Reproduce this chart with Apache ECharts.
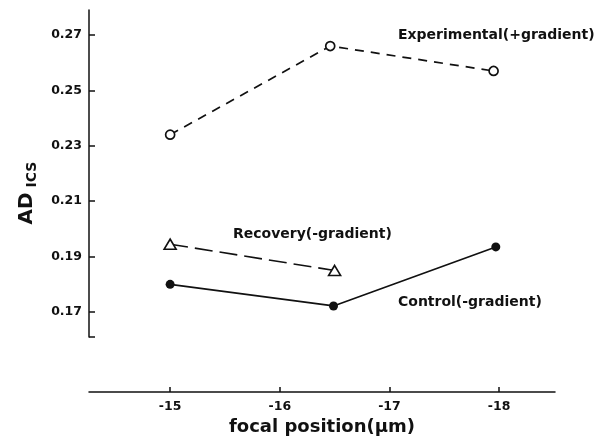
<!DOCTYPE html>
<html>
<head>
<meta charset="utf-8">
<script src="https://cdn.jsdelivr.net/npm/echarts@6/dist/echarts.min.js"></script>
<style>
  html, body { margin: 0; padding: 0; background: #fff; }
  #chart { width: 606px; height: 448px; }
</style>
</head>
<body>
<div id="chart"></div>
<script>
// 数据
const xTicks = [-15, -16, -17, -18];
const yTicks = [0.17, 0.19, 0.21, 0.23, 0.25, 0.27];

const expX = [-15, -16.46, -17.95];
const expY = [0.234, 0.266, 0.257];
const recX = [-15, -16.5];
const recY = [0.1945, 0.185];
const ctrlX = [-15, -16.49, -17.97];
const ctrlY = [0.180, 0.1722, 0.1935];

const pairs = (xs, ys) => xs.map((x, i) => [x, ys[i]]);

const font = '"DejaVu Sans", "Liberation Sans", sans-serif';
const ink = '#111';

let myChart = echarts.init(document.getElementById('chart'));
let option = {
    backgroundColor: '#fff',
    animation: false,
    grid: {
        left: 89,
        right: 51,
        top: 10,
        bottom: 111
    },
    xAxis: {
        type: 'value',
        inverse: true,
        min: -18.51,
        max: -14.26,
        offset: 55,
        axisLine: { lineStyle: { color: ink, width: 1.5 } },
        axisTick: {
            inside: true,
            length: 5,
            customValues: xTicks,
            lineStyle: { color: ink, width: 1.5 }
        },
        axisLabel: {
            customValues: xTicks,
            margin: 8,
            color: ink,
            fontFamily: font,
            fontWeight: 'bold',
            fontSize: 12.5
        },
        splitLine: { show: false },
        name: 'focal position(μm)',
        nameLocation: 'middle',
        nameGap: 13,
        nameTextStyle: {
            color: ink,
            fontFamily: font,
            fontWeight: 'bold',
            fontSize: 18
        }
    },
    yAxis: {
        type: 'value',
        min: 0.161,
        max: 0.279,
        axisLine: { show: true, lineStyle: { color: ink, width: 1.5 } },
        axisTick: {
            inside: true,
            length: 6,
            customValues: [0.161].concat(yTicks),
            lineStyle: { color: ink, width: 1.5 }
        },
        axisLabel: {
            customValues: yTicks,
            margin: 7,
            color: ink,
            fontFamily: font,
            fontWeight: 'bold',
            fontSize: 12.5,
            formatter: v => v.toFixed(2)
        },
        splitLine: { show: false }
    },
    graphic: [
        {
            type: 'text',
            x: 27,
            y: 193,
            rotation: Math.PI / 2,
            style: {
                text: '{a|AD}{b| ICS}',
                align: 'center',
                verticalAlign: 'middle',
                fill: ink,
                rich: {
                    a: { fontFamily: font, fontWeight: 'bold', fontSize: 20, lineHeight: 24, fill: ink },
                    b: { fontFamily: font, fontWeight: 'bold', fontSize: 14, lineHeight: 12, verticalAlign: 'bottom', fill: ink }
                }
            }
        },
        {
            type: 'text', x: 398, y: 35,
            style: { text: 'Experimental(+gradient)', fill: ink, font: 'bold 14px ' + font, verticalAlign: 'middle' }
        },
        {
            type: 'text', x: 233, y: 234,
            style: { text: 'Recovery(-gradient)', fill: ink, font: 'bold 14px ' + font, verticalAlign: 'middle' }
        },
        {
            type: 'text', x: 398, y: 302,
            style: { text: 'Control(-gradient)', fill: ink, font: 'bold 14px ' + font, verticalAlign: 'middle' }
        }
    ],
    series: [
        {
            name: 'Experimental(+gradient)',
            type: 'line',
            data: pairs(expX, expY),
            symbol: 'circle',
            symbolSize: 9,
            lineStyle: { color: ink, width: 1.7, type: [9, 7] },
            itemStyle: { color: '#fff', borderColor: ink, borderWidth: 1.7 }
        },
        {
            name: 'Recovery(-gradient)',
            type: 'line',
            data: pairs(recX, recY),
            symbol: 'triangle',
            symbolSize: [12, 10],
            lineStyle: { color: ink, width: 1.6, type: [18, 7] },
            itemStyle: { color: '#fff', borderColor: ink, borderWidth: 1.6 }
        },
        {
            name: 'Control(-gradient)',
            type: 'line',
            data: pairs(ctrlX, ctrlY),
            symbol: 'circle',
            symbolSize: 9,
            lineStyle: { color: ink, width: 1.7 },
            itemStyle: { color: ink }
        }
    ]
};
myChart.setOption(option);
</script>
</body>
</html>
